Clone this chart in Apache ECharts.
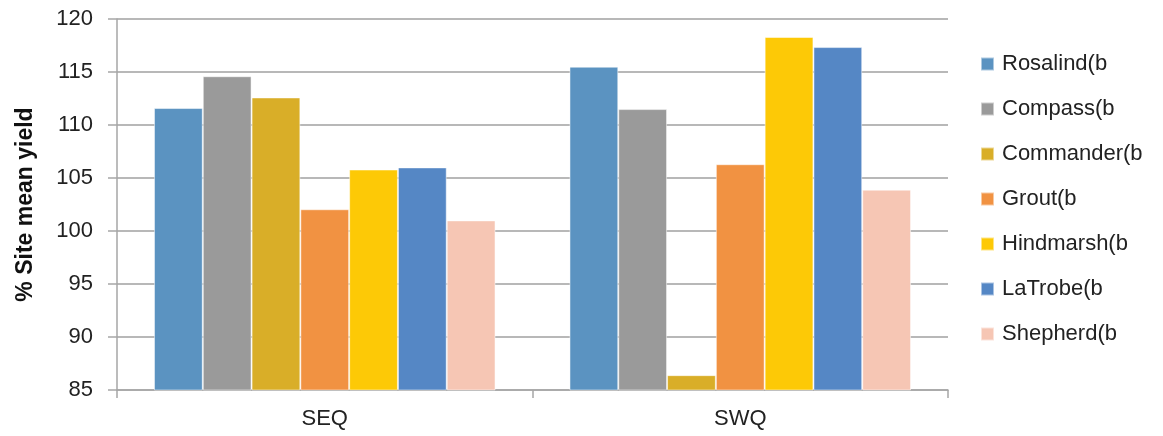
<!DOCTYPE html>
<html>
<head>
<meta charset="utf-8">
<script src="https://cdn.jsdelivr.net/npm/echarts@6/dist/echarts.min.js"></script>
<style>html,body{margin:0;padding:0;background:#fff}#c{width:1163px;height:436px}</style>
</head>
<body>
<div id="c"></div>
<script>
const categories = ['SEQ', 'SWQ'];
const seriesNames = ['Rosalind(b', 'Compass(b', 'Commander(b', 'Grout(b', 'Hindmarsh(b', 'LaTrobe(b', 'Shepherd(b'];
const rosalind = [111.6, 115.5];
const compass = [114.6, 111.5];
const commander = [112.6, 86.4];
const grout = [102.05, 106.3];
const hindmarsh = [105.8, 118.3];
const latrobe = [106.0, 117.35];
const shepherd = [101.0, 103.9];
const yTicks = [85, 90, 95, 100, 105, 110, 115, 120];
const colors = ['#5B93C1', '#9A9A9A', '#D9AE28', '#F19242', '#FDC906', '#5587C5', '#F6C6B4'];
const values = [rosalind, compass, commander, grout, hindmarsh, latrobe, shepherd];

const font = 'Liberation Sans, Arial, sans-serif';
const chart = echarts.init(document.getElementById('c'));
chart.setOption({
  animation: false,
  color: colors,
  grid: {left: 117, right: 215, top: 19, bottom: 46},
  legend: {
    orient: 'vertical', left: 975, top: 48,
    itemWidth: 13, itemHeight: 13, itemGap: 23,
    icon: 'rect',
    textStyle: {fontFamily: font, fontSize: 22, lineHeight: 22, color: '#222', padding: [0, 0, 0, 3]},
    data: seriesNames
  },
  xAxis: {
    type: 'category', data: categories,
    axisLine: {lineStyle: {color: '#A6A6A6', width: 1.5}},
    axisTick: {show: true, length: 8, lineStyle: {color: '#A6A6A6', width: 1.5}},
    axisLabel: {fontFamily: font, fontSize: 22, color: '#222', margin: 18}
  },
  yAxis: {
    type: 'value', min: yTicks[0], max: yTicks[yTicks.length - 1], interval: 5,
    name: '% Site mean yield', nameLocation: 'middle', nameGap: 80,
    nameTextStyle: {fontFamily: font, fontSize: 23, fontWeight: 'bold', color: '#111'},
    axisLine: {show: true, lineStyle: {color: '#A6A6A6', width: 1.5}},
    axisTick: {show: true, length: 9, lineStyle: {color: '#A6A6A6', width: 1.5}},
    splitLine: {lineStyle: {color: '#A0A0A0', width: 1.5}},
    axisLabel: {fontFamily: font, fontSize: 22, color: '#222', margin: 24}
  },
  series: seriesNames.map((n, i) => ({
    name: n, type: 'bar', data: values[i],
    barGap: '0%', barCategoryGap: '17.8%',
    itemStyle: {color: colors[i], borderColor: 'rgba(255,255,255,0.5)', borderWidth: 1}
  }))
});
</script>
</body>
</html>
